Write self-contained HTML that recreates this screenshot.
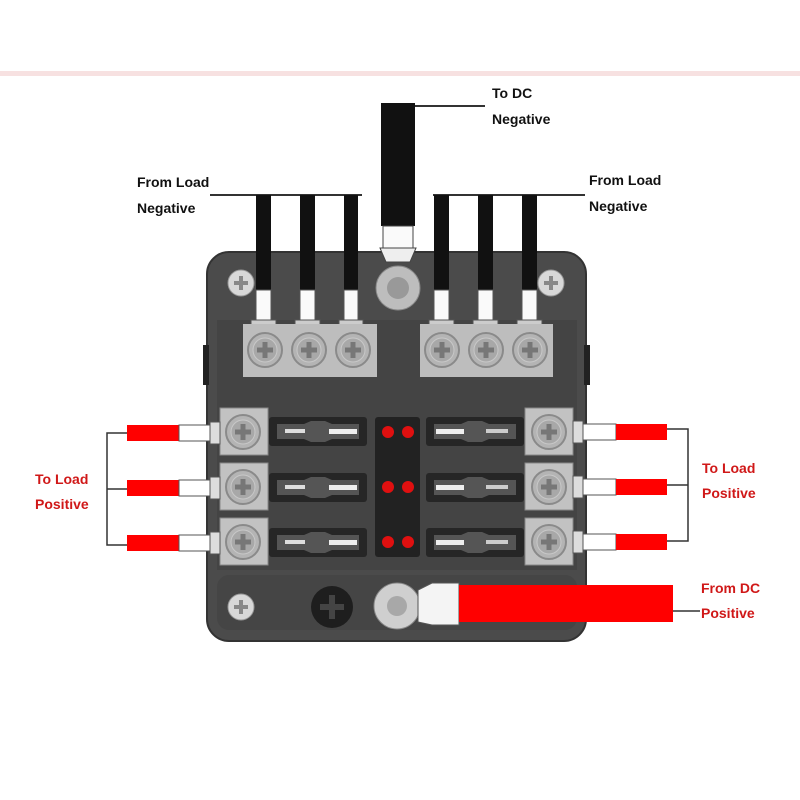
<!DOCTYPE html>
<html><head><style>
html,body{margin:0;padding:0;background:#fff;}
svg{display:block;}
text{font-family:"Liberation Sans",Arial,sans-serif;font-weight:bold;font-size:14px;}
</style></head><body>
<svg width="800" height="800" viewBox="0 0 800 800" xmlns="http://www.w3.org/2000/svg">
<defs>
<g id="scr"><circle r="17" fill="#b4b4b4" stroke="#8a8a8a" stroke-width="2"/><circle r="12" fill="#a8a8a8" stroke="#c8c8c8" stroke-width="1"/><rect x="-8" y="-2.5" width="16" height="5" fill="#777"/><rect x="-2.5" y="-8" width="5" height="16" fill="#777"/></g>
<g id="cscr"><circle r="13" fill="#d8d8d8" stroke="#999" stroke-width="1"/><rect x="-7" y="-2" width="14" height="4" fill="#888"/><rect x="-2" y="-7" width="4" height="14" fill="#888"/></g>
<g id="fuse"><rect x="0" y="0" width="98" height="29" rx="3" fill="#262626"/><path d="M8 7 H35 L42 4 H56 L63 7 H90 V22 H63 L56 25 H42 L35 22 H8 Z" fill="#555"/><rect x="16" y="12" width="20" height="4" fill="#ddd"/><rect x="60" y="12" width="28" height="5" fill="#eee"/></g>
<g id="fuseR"><rect x="0" y="0" width="98" height="29" rx="3" fill="#262626"/><path d="M8 7 H35 L42 4 H56 L63 7 H90 V22 H63 L56 25 H42 L35 22 H8 Z" fill="#555"/><rect x="10" y="12" width="28" height="5" fill="#eee"/><rect x="60" y="12" width="22" height="4" fill="#ccc"/></g>
</defs>
<rect x="0" y="71" width="800" height="5" fill="#f7e1e1"/>
<!-- box -->
<rect x="207" y="252" width="379" height="389" rx="22" fill="#4b4b4b" stroke="#333" stroke-width="2"/>
<rect x="217" y="320" width="360" height="250" fill="#444"/>
<rect x="203" y="345" width="6" height="40" fill="#222"/>
<rect x="584" y="345" width="6" height="40" fill="#222"/>
<rect x="217" y="575" width="360" height="55" rx="12" fill="#454545"/>
<!-- top wires left -->
<line x1="210" y1="195" x2="362" y2="195" stroke="#333" stroke-width="2"/>
<line x1="433" y1="195" x2="585" y2="195" stroke="#333" stroke-width="2"/>
<g fill="#111">
<rect x="256" y="195" width="15" height="95"/><rect x="300" y="195" width="15" height="95"/><rect x="344" y="195" width="14" height="95"/>
<rect x="434" y="195" width="15" height="95"/><rect x="478" y="195" width="15" height="95"/><rect x="522" y="195" width="15" height="95"/>
</g>
<g fill="#fafafa" stroke="#555" stroke-width="1">
<rect x="256" y="290" width="15" height="30"/><rect x="300" y="290" width="15" height="30"/><rect x="344" y="290" width="14" height="30"/>
<rect x="434" y="290" width="15" height="30"/><rect x="478" y="290" width="15" height="30"/><rect x="522" y="290" width="15" height="30"/>
</g>
<g fill="#ccc" stroke="#555" stroke-width="1">
<rect x="251" y="320" width="25" height="6"/><rect x="295" y="320" width="25" height="6"/><rect x="339" y="320" width="24" height="6"/>
<rect x="429" y="320" width="25" height="6"/><rect x="473" y="320" width="25" height="6"/><rect x="517" y="320" width="25" height="6"/>
</g>
<!-- DC negative -->
<line x1="415" y1="106" x2="485" y2="106" stroke="#333" stroke-width="2"/>
<rect x="381" y="103" width="34" height="123" fill="#111"/>
<rect x="383" y="226" width="30" height="22" fill="#fafafa" stroke="#444"/>
<path d="M380 248 H416 L410 262 H386 Z" fill="#eee" stroke="#444"/>
<circle cx="398" cy="288" r="22" fill="#bdbdbd" stroke="#888"/>
<circle cx="398" cy="288" r="11" fill="#999"/>
<!-- top terminal bars -->
<rect x="243" y="324" width="134" height="53" fill="#bdbdbd"/>
<rect x="420" y="324" width="133" height="53" fill="#bdbdbd"/>
<use href="#scr" x="265" y="350"/><use href="#scr" x="309" y="350"/><use href="#scr" x="353" y="350"/>
<use href="#scr" x="442" y="350"/><use href="#scr" x="486" y="350"/><use href="#scr" x="530" y="350"/>
<!-- corner screws -->
<use href="#cscr" x="241" y="283"/><use href="#cscr" x="551" y="283"/><use href="#cscr" x="241" y="607"/>
<!-- side blocks -->
<g fill="#c2c2c2" stroke="#888" stroke-width="1">
<rect x="220" y="408" width="48" height="47"/><rect x="220" y="463" width="48" height="47"/><rect x="220" y="518" width="48" height="47"/>
<rect x="525" y="408" width="48" height="47"/><rect x="525" y="463" width="48" height="47"/><rect x="525" y="518" width="48" height="47"/>
</g>
<use href="#scr" x="243" y="432"/><use href="#scr" x="243" y="487"/><use href="#scr" x="243" y="542"/>
<use href="#scr" x="549" y="432"/><use href="#scr" x="549" y="487"/><use href="#scr" x="549" y="542"/>
<!-- fuses -->
<use href="#fuse" x="269" y="417"/><use href="#fuse" x="269" y="473"/><use href="#fuse" x="269" y="528"/>
<use href="#fuseR" x="426" y="417"/><use href="#fuseR" x="426" y="473"/><use href="#fuseR" x="426" y="528"/>
<rect x="375" y="417" width="45" height="140" rx="3" fill="#222"/>
<g fill="#e01010"><circle cx="388" cy="432" r="6"/><circle cx="408" cy="432" r="6"/><circle cx="388" cy="487" r="6"/><circle cx="408" cy="487" r="6"/><circle cx="388" cy="542" r="6"/><circle cx="408" cy="542" r="6"/></g>
<!-- left red wires -->
<path d="M127 433 H107 V545 H127 M107 489 H127" fill="none" stroke="#333" stroke-width="1.5"/>
<g>
<rect x="127" y="425" width="52" height="16" fill="#f00"/><rect x="179" y="425" width="31" height="16" fill="#fff" stroke="#555"/><rect x="210" y="422" width="10" height="22" fill="#ddd" stroke="#555"/>
<rect x="127" y="480" width="52" height="16" fill="#f00"/><rect x="179" y="480" width="31" height="16" fill="#fff" stroke="#555"/><rect x="210" y="477" width="10" height="22" fill="#ddd" stroke="#555"/>
<rect x="127" y="535" width="52" height="16" fill="#f00"/><rect x="179" y="535" width="31" height="16" fill="#fff" stroke="#555"/><rect x="210" y="532" width="10" height="22" fill="#ddd" stroke="#555"/>
</g>
<!-- right red wires -->
<path d="M667 429 H688 V541 H667 M688 485 H667" fill="none" stroke="#333" stroke-width="1.5"/>
<g>
<rect x="573" y="421" width="10" height="22" fill="#ddd" stroke="#555"/><rect x="583" y="424" width="33" height="16" fill="#fff" stroke="#555"/><rect x="616" y="424" width="51" height="16" fill="#f00"/>
<rect x="573" y="476" width="10" height="22" fill="#ddd" stroke="#555"/><rect x="583" y="479" width="33" height="16" fill="#fff" stroke="#555"/><rect x="616" y="479" width="51" height="16" fill="#f00"/>
<rect x="573" y="531" width="10" height="22" fill="#ddd" stroke="#555"/><rect x="583" y="534" width="33" height="16" fill="#fff" stroke="#555"/><rect x="616" y="534" width="51" height="16" fill="#f00"/>
</g>
<!-- bottom -->
<circle cx="332" cy="607" r="21" fill="#1e1e1e"/>
<rect x="320" y="604" width="24" height="6" fill="#444"/><rect x="329" y="595" width="6" height="24" fill="#444"/>
<circle cx="397" cy="606" r="23" fill="#cfcfcf" stroke="#888"/>
<circle cx="397" cy="606" r="10" fill="#a8a8a8"/>
<path d="M418 590 L432 583 H459 V625 H432 L418 622 Z" fill="#f4f4f4" stroke="#555"/>
<rect x="459" y="585" width="214" height="37" fill="#f00"/>
<line x1="673" y1="611" x2="700" y2="611" stroke="#333" stroke-width="1.5"/>
<!-- labels -->
<text x="492" y="98" fill="#111">To DC</text>
<text x="492" y="124" fill="#111">Negative</text>
<text x="137" y="187" fill="#111">From Load</text>
<text x="137" y="213" fill="#111">Negative</text>
<text x="589" y="185" fill="#111">From Load</text>
<text x="589" y="211" fill="#111">Negative</text>
<text x="35" y="484" fill="#d01818">To Load</text>
<text x="35" y="509" fill="#d01818">Positive</text>
<text x="702" y="473" fill="#d01818">To Load</text>
<text x="702" y="498" fill="#d01818">Positive</text>
<text x="701" y="593" fill="#d01818">From DC</text>
<text x="701" y="618" fill="#d01818">Positive</text>
</svg>
</body></html>
